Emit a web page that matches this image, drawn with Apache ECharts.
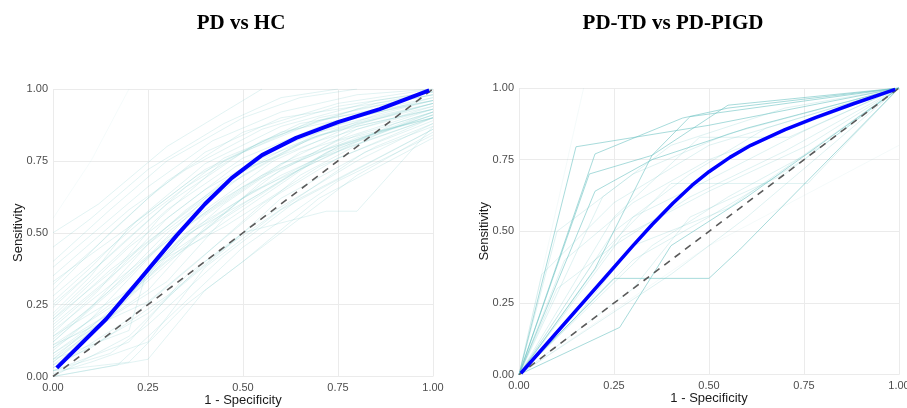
<!DOCTYPE html>
<html>
<head>
<meta charset="utf-8">
<script src="https://cdn.jsdelivr.net/npm/echarts@6/dist/echarts.min.js"></script>
<style>
  html, body { margin: 0; padding: 0; background: #fff; }
  #renderChart { width: 907px; height: 408px; }
</style>
</head>
<body>
<div id="renderChart"></div>
<script>
// titles
const titles = ['PD vs HC', 'PD-TD vs PD-PIGD'];

// mean ROC curves (1 - specificity, sensitivity)
const meanLeft = [[0.01, 0.03], [0.14, 0.20], [0.23, 0.34], [0.325, 0.49], [0.40, 0.60], [0.47, 0.69],
  [0.55, 0.77], [0.64, 0.83], [0.75, 0.885], [0.86, 0.93], [0.99, 0.995]];
const meanRight = [[0.005, 0.005], [0.30, 0.45], [0.35, 0.523], [0.405, 0.598], [0.455, 0.66], [0.50, 0.708],
  [0.555, 0.758], [0.61, 0.80], [0.70, 0.855], [0.78, 0.897], [0.88, 0.945], [0.99, 0.995]];

// chance line
const diagonal = [[0, 0], [1, 1]];

// bootstrap ROC curves, PD vs HC
const bootLeft = [
  [[0, 0.05], [0.1, 0.15], [0.25, 0.35], [0.5, 0.62], [0.75, 0.80], [1, 0.92]],
  [[0, 0.12], [0.15, 0.30], [0.3, 0.50], [0.5, 0.70], [0.7, 0.85], [1, 0.95]],
  [[0, 0.20], [0.2, 0.45], [0.4, 0.65], [0.6, 0.80], [0.8, 0.90], [1, 0.97]],
  [[0, 0.30], [0.15, 0.50], [0.3, 0.68], [0.5, 0.85], [0.75, 0.95], [1, 1]],
  [[0, 0.45], [0.1, 0.55], [0.25, 0.72], [0.45, 0.88], [0.6, 0.97], [0.75, 1]],
  [[0, 0.02], [0.2, 0.12], [0.35, 0.35], [0.55, 0.55], [0.8, 0.75], [1, 0.88]],
  [[0, 0], [0.25, 0.06], [0.4, 0.30], [0.6, 0.50], [0.8, 0.70], [1, 0.85]],
  [[0, 0.08], [0.18, 0.25], [0.35, 0.45], [0.55, 0.68], [0.8, 0.86], [1, 0.93]],
  [[0, 0.15], [0.12, 0.30], [0.28, 0.55], [0.45, 0.75], [0.7, 0.90], [1, 0.98]],
  [[0, 0.22], [0.1, 0.35], [0.2, 0.52], [0.4, 0.72], [0.65, 0.88], [1, 0.96]],
  [[0, 0.06], [0.2, 0.16], [0.25, 0.38], [0.45, 0.52], [0.7, 0.73], [1, 0.90]],
  [[0, 0.10], [0.15, 0.22], [0.3, 0.42], [0.5, 0.60], [0.72, 0.78], [1, 0.91]],
  [[0, 0.35], [0.2, 0.58], [0.35, 0.72], [0.55, 0.86], [0.75, 0.94], [1, 0.99]],
  [[0, 0.04], [0.1, 0.10], [0.3, 0.28], [0.5, 0.50], [0.72, 0.575], [0.8, 0.575], [1, 0.87]],
  [[0, 0.18], [0.2, 0.40], [0.35, 0.58], [0.5, 0.72], [0.7, 0.82], [1, 0.94]],
  [[0, 0.25], [0.15, 0.42], [0.3, 0.60], [0.5, 0.78], [0.7, 0.89], [1, 0.97]],
  [[0, 0.02], [0.15, 0.08], [0.25, 0.18], [0.45, 0.42], [0.65, 0.62], [1, 0.86]],
  [[0, 0.14], [0.1, 0.24], [0.25, 0.46], [0.45, 0.66], [0.68, 0.83], [1, 0.95]],
  [[0, 0.40], [0.15, 0.58], [0.3, 0.75], [0.5, 0.90], [0.65, 0.97], [0.8, 1]],
  [[0, 0.07], [0.25, 0.30], [0.4, 0.52], [0.6, 0.72], [0.8, 0.84], [1, 0.92]],
  [[0, 0.28], [0.25, 0.56], [0.45, 0.76], [0.65, 0.87], [0.85, 0.95], [1, 0.99]],
  [[0, 0.12], [0.2, 0.35], [0.4, 0.62], [0.55, 0.76], [0.75, 0.86], [1, 0.95]],
  [[0, 0], [0.17, 0.04], [0.3, 0.20], [0.5, 0.45], [0.75, 0.68], [1, 0.84]],
  [[0, 0.16], [0.25, 0.42], [0.45, 0.62], [0.6, 0.74], [0.8, 0.87], [1, 0.93]],
  [[0, 0.32], [0.12, 0.46], [0.25, 0.62], [0.4, 0.78], [0.6, 0.90], [1, 0.98]],
  [[0, 0.09], [0.1, 0.20], [0.3, 0.48], [0.5, 0.66], [0.75, 0.82], [1, 0.90]],
  [[0, 0.03], [0.2, 0.20], [0.38, 0.40], [0.55, 0.60], [0.75, 0.76], [1, 0.89]],
  [[0, 0.20], [0.3, 0.52], [0.48, 0.70], [0.62, 0.80], [0.85, 0.91], [1, 0.96]],
  [[0, 0.05], [0.12, 0.18], [0.22, 0.32], [0.4, 0.56], [0.6, 0.74], [1, 0.91]],
  [[0, 0.50], [0.12, 0.60], [0.3, 0.80], [0.45, 0.92], [0.55, 1]],
  [[0, 0.11], [0.25, 0.26], [0.45, 0.48], [0.65, 0.70], [0.85, 0.84], [1, 0.92]],
  [[0, 0.24], [0.18, 0.46], [0.35, 0.66], [0.55, 0.82], [0.8, 0.93], [1, 0.98]],
  [[0, 0.01], [0.1, 0.05], [0.25, 0.12], [0.4, 0.38], [0.6, 0.58], [0.8, 0.72], [1, 0.86]],
  [[0, 0.17], [0.15, 0.34], [0.3, 0.55], [0.48, 0.73], [0.7, 0.86], [1, 0.95]],
  [[0, 0.06], [0.3, 0.40], [0.5, 0.58], [0.7, 0.76], [1, 0.90]],
  [[0, 0.38], [0.25, 0.66], [0.42, 0.82], [0.6, 0.92], [0.8, 0.98], [1, 1]],
  [[0, 0.13], [0.22, 0.38], [0.38, 0.56], [0.58, 0.75], [0.8, 0.88], [1, 0.94]],
  [[0, 0.02], [0.2, 0.05], [0.35, 0.25], [0.5, 0.40], [0.7, 0.62], [1, 0.83]],
  [[0, 0.26], [0.1, 0.38], [0.22, 0.54], [0.38, 0.70], [0.6, 0.85], [1, 0.96]],
  [[0, 0.10], [0.18, 0.28], [0.33, 0.47], [0.52, 0.64], [0.78, 0.80], [1, 0.90]],
  [[0, 0.04], [0.08, 0.12], [0.2, 0.30], [0.35, 0.50], [0.6, 0.70], [0.85, 0.85], [1, 0.90]],
  [[0, 0.19], [0.15, 0.37], [0.28, 0.50], [0.45, 0.68], [0.7, 0.84], [1, 0.93]],
  [[0, 0.08], [0.3, 0.33], [0.45, 0.55], [0.65, 0.72], [0.9, 0.88], [1, 0.92]],
  [[0, 0.14], [0.2, 0.30], [0.35, 0.52], [0.55, 0.70], [0.8, 0.83], [1, 0.90]],
  [[0, 0], [0.2, 0.14], [0.4, 0.40], [0.62, 0.60], [0.82, 0.78], [1, 0.87]],
  [[0, 0.33], [0.2, 0.52], [0.4, 0.74], [0.6, 0.87], [0.85, 0.96], [1, 0.99]],
  [[0, 0.06], [0.15, 0.20], [0.28, 0.40], [0.45, 0.60], [0.65, 0.78], [1, 0.93]],
  [[0, 0.21], [0.12, 0.36], [0.3, 0.58], [0.5, 0.76], [0.72, 0.88], [1, 0.96]],
  [[0, 0.03], [0.25, 0.22], [0.45, 0.44], [0.6, 0.62], [0.85, 0.80], [1, 0.88]],
  [[0, 0.11], [0.22, 0.30], [0.36, 0.50], [0.55, 0.64], [0.75, 0.80], [1, 0.91]]
];
const bootLeftGhost = [
  [[0, 0.55], [0.1, 0.75], [0.2, 1]]
];

// bootstrap ROC curves, PD-TD vs PD-PIGD
const bootRightStrong = [
  [[0, 0], [0.15, 0.795], [0.5, 0.87], [1, 1]],
  [[0, 0], [0.2, 0.77], [0.43, 0.895], [0.55, 0.93], [1, 1]],
  [[0, 0], [0.185, 0.70], [0.35, 0.765], [0.55, 0.94], [1, 1]],
  [[0, 0], [0.2, 0.64], [0.35, 0.75], [0.6, 0.86], [1, 1]],
  [[0, 0], [0.2, 0.37], [0.35, 0.765], [0.45, 0.90], [1, 1]],
  [[0, 0], [0.25, 0.336], [0.5, 0.336], [0.58, 0.435], [1, 1]],
  [[0, 0], [0.265, 0.165], [0.4, 0.45], [0.6, 0.62], [1, 1]]
];
const bootRightFaint = [
  [[0, 0], [0.2, 0.40], [0.4, 0.667], [0.76, 0.667], [1, 1]],
  [[0, 0], [0.25, 0.55], [0.475, 0.828], [0.71, 0.828], [1, 1]],
  [[0, 0], [0.12, 0.40], [0.3, 0.60], [0.5, 0.75], [1, 1]],
  [[0, 0], [0.1, 0.30], [0.25, 0.45], [0.45, 0.62], [0.7, 0.78], [1, 1]],
  [[0, 0], [0.3, 0.40], [0.5, 0.55], [0.75, 0.75], [1, 1]],
  [[0, 0], [0.25, 0.50], [0.45, 0.70], [0.65, 0.86], [1, 1]],
  [[0, 0], [0.35, 0.45], [0.55, 0.62], [0.8, 0.80], [1, 1]],
  [[0, 0], [0.06, 0.35], [0.25, 0.60], [0.5, 0.80], [1, 1]],
  [[0, 0], [0.3, 0.55], [0.5, 0.68], [0.75, 0.85], [1, 1]],
  [[0, 0], [0.4, 0.35], [0.6, 0.55], [1, 1]],
  [[0, 0], [0.15, 0.20], [0.3, 0.45], [0.55, 0.58], [1, 1]],
  [[0, 0], [0.22, 0.62], [0.4, 0.80], [0.7, 0.93], [1, 1]],
  [[0, 0], [0.3, 0.30], [0.45, 0.55], [0.7, 0.70], [1, 1]],
  [[0, 0], [0.27, 0.48], [0.5, 0.64], [0.76, 0.80], [1, 1]],
  [[0, 0], [0.1, 0.50], [0.3, 0.70], [0.55, 0.84], [1, 1]]
];
const bootRightGhost = [
  [[0, 0], [0.17, 1]],
  [[0, 0], [0.5, 0.45], [1, 0.80]]
];

const tickFmt = v => v.toFixed(2);

this.myChart = echarts.init(document.getElementById('renderChart'));

function axisX(gridIndex) {
  return {
    type: 'value', gridIndex: gridIndex, min: 0, max: 1, interval: 0.25,
    name: '1 - Specificity', nameLocation: 'middle', nameGap: 17, nameMoveOverlap: false,
    nameTextStyle: { color: '#1a1a1a', fontSize: 13, fontFamily: 'Liberation Sans' },
    axisLine: { show: false }, axisTick: { show: false },
    axisLabel: { color: '#4d4d4d', fontSize: 11, margin: 6, formatter: tickFmt, fontFamily: 'Liberation Sans' },
    splitLine: { lineStyle: { color: '#ebebeb', width: 1 } }
  };
}
function axisY(gridIndex) {
  return {
    type: 'value', gridIndex: gridIndex, min: 0, max: 1, interval: 0.25,
    name: 'Sensitivity', nameLocation: 'middle', nameGap: 28, nameRotate: 90, nameMoveOverlap: false,
    nameTextStyle: { color: '#1a1a1a', fontSize: 13, fontFamily: 'Liberation Sans' },
    axisLine: { show: false }, axisTick: { show: false },
    axisLabel: { color: '#4d4d4d', fontSize: 11, margin: 5, formatter: tickFmt, fontFamily: 'Liberation Sans' },
    splitLine: { lineStyle: { color: '#ebebeb', width: 1 } }
  };
}

function curve(data, idx, color, width, z) {
  return {
    type: 'line', xAxisIndex: idx, yAxisIndex: idx, data: data,
    symbol: 'none', silent: true, animation: false, z: z,
    lineStyle: { color: color, width: width }
  };
}

const series = [];
bootLeft.forEach(c => series.push(curve(c, 0, 'rgba(110,195,195,0.2)', 1, 1)));
bootLeftGhost.forEach(c => series.push(curve(c, 0, 'rgba(110,195,195,0.07)', 1, 1)));
bootRightGhost.forEach(c => series.push(curve(c, 1, 'rgba(110,195,195,0.08)', 1, 1)));
bootRightFaint.forEach(c => series.push(curve(c, 1, 'rgba(110,195,195,0.22)', 1, 1)));
bootRightStrong.forEach(c => series.push(curve(c, 1, 'rgba(110,195,195,0.6)', 1, 1)));
[0, 1].forEach(i => {
  const d = curve(diagonal, i, '#5a5a5a', 1.6, 2);
  d.lineStyle.type = [7, 6];
  series.push(d);
});
series.push(curve(meanLeft, 0, '#0000ff', 4, 3));
series.push(curve(meanRight, 1, '#0000ff', 3.5, 3));

this.option = {
  backgroundColor: '#ffffff',
  title: [
    { text: titles[0], left: 236, top: 8, textAlign: 'center',
      textStyle: { fontFamily: 'Liberation Serif', fontWeight: 'bold', fontSize: 21, color: '#000' } },
    { text: titles[1], left: 668, top: 8, textAlign: 'center',
      textStyle: { fontFamily: 'Liberation Serif', fontWeight: 'bold', fontSize: 21, color: '#000' } }
  ],
  grid: [
    { left: 53, right: 474, top: 89, bottom: 31.5, containLabel: false, outerBoundsMode: 'none' },
    { left: 519, right: 8, top: 88, bottom: 33.3, containLabel: false, outerBoundsMode: 'none' }
  ],
  xAxis: [axisX(0), axisX(1)],
  yAxis: [axisY(0), axisY(1)],
  series: series
};

this.myChart.setOption(this.option);
</script>
</body>
</html>
